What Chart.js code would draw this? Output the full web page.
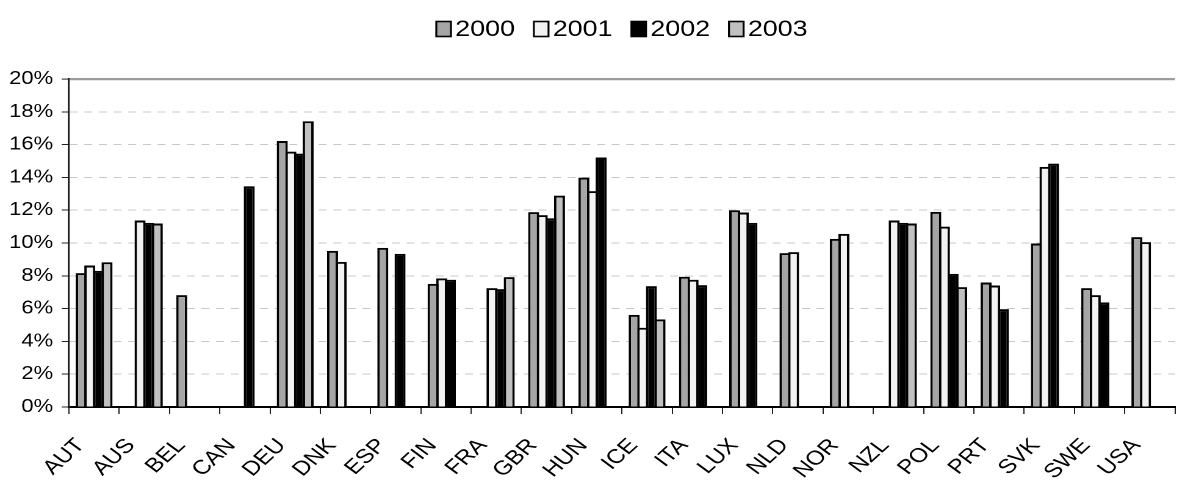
<!DOCTYPE html>
<html>
<head>
<meta charset="utf-8">
<script src="https://cdn.jsdelivr.net/npm/chart.js@4.4.1/dist/chart.umd.min.js"></script>
<style>
  html, body { margin: 0; padding: 0; background: #ffffff; overflow: hidden; }
  /* chart is laid out on a narrower frame and widened horizontally */
  #frame {
    position: absolute; left: 0; top: 0;
    width: 980px; height: 490px;
    transform: scaleX(1.2204); transform-origin: 0 0;
  }
</style>
</head>
<body>
<div id="frame"><canvas id="chart"></canvas></div>
<script>
const countries = ['AUT','AUS','BEL','CAN','DEU','DNK','ESP','FIN','FRA','GBR','HUN',
                   'ICE','ITA','LUX','NLD','NOR','NZL','POL','PRT','SVK','SWE','USA'];
const years = ['2000', '2001', '2002', '2003'];

// shares in percent, null where no figure exists
const share2000 = [8.16, null, 6.82, null, 16.22, 9.52, 9.70, 7.51, null, 11.88, 13.99,
                   5.62, 7.94, 12.00, 9.38, 10.25, null, 11.90, 7.59, 9.97, 7.25, 10.36];
const share2001 = [8.63, 11.37, null, null, 15.57, 8.85, null, 7.84, 7.25, 11.70, 13.16,
                   4.83, 7.76, 11.86, 9.44, 10.56, 11.37, 11.00, 7.41, 14.64, 6.82, 10.05];
const share2002 = [8.30, 11.23, null, 13.46, 15.45, null, 9.34, 7.76, 7.19, 11.51, 15.21,
                   7.37, 7.43, 11.23, null, null, 11.23, 8.12, 5.97, 14.84, 6.38, null];
const share2003 = [8.83, 11.19, null, null, 17.42, null, null, null, 7.92, 12.89, null,
                   5.34, null, null, null, null, 11.19, 7.31, null, null, null, null];

const yTickValues = [0, 2, 4, 6, 8, 10, 12, 14, 16, 18, 20];

const seriesValues = [share2000, share2001, share2002, share2003];
const seriesFills = ['#a5a5a5', '#f2f2f2', '#000000', '#c0c0c0'];

const FONT = '"Liberation Sans", Arial, Helvetica, sans-serif';
Chart.defaults.font.family = FONT;
Chart.defaults.color = '#000000';

// single-row legend centred over the plot area: square swatch, then the year
const yearLegend = {
  id: 'yearLegend',
  afterDraw(chart, args, opts) {
    const ctx = chart.ctx;
    const sets = chart.data.datasets;
    ctx.save();
    ctx.font = opts.fontSize + 'px ' + FONT;
    ctx.textBaseline = 'middle';
    const widths = sets.map(d => opts.boxW + opts.gap + ctx.measureText(d.label).width);
    const total = widths.reduce((a, b) => a + b, 0) + opts.spacing * (sets.length - 1);
    let x = (chart.chartArea.left + chart.chartArea.right) / 2 - total / 2;
    sets.forEach((d, i) => {
      const top = opts.y - opts.boxH / 2;
      ctx.fillStyle = d.backgroundColor;
      ctx.fillRect(x, top, opts.boxW, opts.boxH);
      ctx.lineWidth = opts.line;
      ctx.strokeStyle = '#000000';
      ctx.strokeRect(x, top, opts.boxW, opts.boxH);
      ctx.fillStyle = '#000000';
      ctx.fillText(d.label, x + opts.boxW + opts.gap, opts.y + 1);
      x += widths[i] + opts.spacing;
    });
    ctx.restore();
  }
};

new Chart(document.getElementById('chart'), {
  type: 'bar',
  data: {
    labels: countries,
    datasets: years.map((y, i) => ({
      label: y,
      data: seriesValues[i],
      backgroundColor: seriesFills[i],
      borderColor: '#000000',
      borderWidth: 2,
      categoryPercentage: 0.686,
      barPercentage: 1.278
    }))
  },
  options: {
    responsive: true,
    maintainAspectRatio: false,
    devicePixelRatio: 2,
    animation: false,
    layout: { padding: { top: 79, left: 0, right: 0, bottom: 0 } },
    plugins: {
      tooltip: { enabled: false },
      legend: { display: false },
      yearLegend: { y: 29, boxW: 12, boxH: 15, gap: 3.5, spacing: 15.5, fontSize: 22, line: 1.6 }
    },
    scales: {
      x: {
        grid: {
          display: true,
          drawOnChartArea: false,
          drawTicks: true,
          offset: true,
          tickLength: 7,
          tickWidth: 1,
          tickColor: '#222222'
        },
        border: { color: '#000000', width: 2 },
        ticks: {
          autoSkip: false,
          minRotation: 48,
          maxRotation: 48,
          labelOffset: -11,
          padding: 20,
          color: '#000000',
          font: { size: 20 }
        },
        afterFit(scale) { scale.height = 83; }
      },
      y: {
        min: 0,
        max: 20,
        afterBuildTicks(scale) { scale.ticks = yTickValues.map(v => ({ value: v })); },
        ticks: {
          padding: 7,
          color: '#000000',
          font: { size: 18 },
          callback: v => v + '%'
        },
        grid: {
          color: c => {
            if (!c.tick) return '#cccccc';
            if (c.tick.value === 0) return 'rgba(0,0,0,0)';
            return c.tick.value === 20 ? '#9c9c9c' : '#c8c8c8';
          },
          lineWidth: c => (c.tick && c.tick.value === 20) ? 2.2 : 1,
          tickLength: 6,
          tickWidth: 1,
          tickColor: '#222222'
        },
        border: {
          color: '#222222',
          width: 1.6,
          dash: c => (c.type === 'tick' && c.tick.value !== 20) ? [6.5, 5.5] : []
        },
        afterFit(scale) { scale.width = 56.5; }
      }
    }
  },
  plugins: [yearLegend]
});
</script>
</body>
</html>
